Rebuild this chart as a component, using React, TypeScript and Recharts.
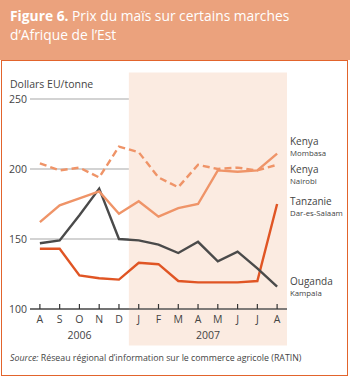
import React from "react";
import {
  CartesianGrid,
  Line,
  LineChart,
  ReferenceArea,
  XAxis,
  YAxis,
} from "recharts";

const months = ["A", "S", "O", "N", "D", "J", "F", "M", "A", "M", "J", "J", "A"];
const mombasa = [204, 199, 201, 194, 216, 212, 194, 187, 203, 200, 201, 199, 203];
const nairobi = [162, 174, 179, 184, 168, 177, 166, 172, 175, 199, 198, 199, 211];
const kampala = [147, 149, 167, 186, 150, 149, 146, 140, 148, 134, 141, 129, 116];
const darEsSalaam = [143, 143, 124, 122, 121, 133, 132, 120, 119, 119, 119, 120, 175];
const yTicks = [100, 150, 200, 250];
const yearTicks = [2, 8.5];
const yearLabels: Record<string, string> = { "2": "2006", "8.5": "2007" };

const data = months.map((m, i) => ({
  i,
  month: m,
  mombasa: mombasa[i],
  nairobi: nairobi[i],
  kampala: kampala[i],
  dar: darEsSalaam[i],
}));

const FONT = "'Open Sans', 'Noto Sans', sans-serif";
const SALMON = "#EF9468";
const RED = "#E05524";
const DARK = "#4a4a4a";

function MonthTick(props: any) {
  const { x, y, payload } = props;
  return (
    <g>
      <line x1={x} x2={x} y1={y - 5} y2={y} stroke="#333" strokeWidth={1.2} />
      <text x={x} y={y + 14} textAnchor="middle" fontSize={10.5} fill="#444" fontFamily={FONT}>
        {months[payload.value]}
      </text>
    </g>
  );
}

const seriesLabels = [
  { top: 136, a: "Kenya", b: "Mombasa" },
  { top: 164, a: "Kenya", b: "Nairobi" },
  { top: 196, a: "Tanzanie", b: "Dar-es-Salaam" },
  { top: 276, a: "Ouganda", b: "Kampala" },
];

export default function App() {
  return (
    <div
      style={{
        position: "fixed",
        top: 0,
        left: 0,
        width: 350,
        height: 377,
        background: "#fff",
        fontFamily: FONT,
        overflow: "hidden",
      }}
    >
      <div
        style={{
          position: "absolute",
          top: 0,
          left: 0,
          width: 350,
          height: 60,
          background: "#EBA27D",
        }}
      />
      <div
        style={{
          position: "absolute",
          top: 6,
          left: 10,
          width: 330,
          color: "#fff",
          fontSize: 13.8,
          lineHeight: "19px",
        }}
      >
        <div>
          <b>Figure 6.</b> Prix du maïs sur certains marches
        </div>
        <div>d’Afrique de l’Est</div>
      </div>
      <div
        style={{
          position: "absolute",
          top: 60,
          left: 1,
          width: 345,
          height: 314,
          border: "1.5px solid #E2642C",
        }}
      />
      <div
        style={{
          position: "absolute",
          top: 77,
          left: 10,
          fontSize: 10.5,
          color: "#444",
        }}
      >
        Dollars EU/tonne
      </div>
      <LineChart
        width={350}
        height={377}
        data={data}
        margin={{ top: 99, right: 63, left: 0, bottom: 30 }}
        style={{ position: "absolute", top: 0, left: 0 }}
      >
        <ReferenceArea
          x1={4.5}
          x2={12.5}
          y1={74}
          y2={269}
          fill="#FBEBE1"
          fillOpacity={1}
          stroke="none"
          ifOverflow="visible"
        />
        <CartesianGrid horizontal vertical={false} stroke="#c4c4c4" strokeWidth={1.5} />
        <XAxis
          dataKey="i"
          type="number"
          domain={[-0.5, 12.5]}
          ticks={months.map((_, i) => i)}
          interval={0}
          height={18}
          tickSize={0}
          tickMargin={0}
          tickLine={false}
          axisLine={{ stroke: "#555", strokeWidth: 1.5 }}
          tick={<MonthTick />}
        />
        <XAxis
          xAxisId="year"
          dataKey="i"
          type="number"
          domain={[-0.5, 12.5]}
          ticks={yearTicks}
          interval={0}
          height={20}
          tickSize={0}
          tickMargin={5}
          axisLine={false}
          tickLine={false}
          tick={{ fontSize: 10.5, fill: "#444", fontFamily: FONT }}
          tickFormatter={(v: number) => yearLabels[String(v)]}
        />
        <YAxis
          type="number"
          domain={[100, 250]}
          ticks={yTicks}
          width={30}
          tickSize={0}
          tickMargin={3}
          axisLine={false}
          tickLine={false}
          tick={{ fontSize: 10.5, fill: "#444", fontFamily: FONT }}
        />
        <Line
          dataKey="dar"
          stroke={RED}
          strokeWidth={2.4}
          dot={false}
          isAnimationActive={false}
        />
        <Line
          dataKey="kampala"
          stroke={DARK}
          strokeWidth={2.4}
          dot={false}
          isAnimationActive={false}
        />
        <Line
          dataKey="nairobi"
          stroke={SALMON}
          strokeWidth={2.4}
          dot={false}
          isAnimationActive={false}
        />
        <Line
          dataKey="mombasa"
          stroke={SALMON}
          strokeWidth={2.4}
          strokeDasharray="7 4"
          dot={false}
          isAnimationActive={false}
        />
      </LineChart>
      {seriesLabels.map((s) => (
        <div
          key={s.a + s.b}
          style={{
            position: "absolute",
            top: s.top,
            left: 290,
            color: "#444",
            lineHeight: "11px",
          }}
        >
          <div style={{ fontSize: 10 }}>{s.a}</div>
          <div style={{ fontSize: 7.8, marginTop: 1 }}>{s.b}</div>
        </div>
      ))}
      <div
        style={{
          position: "absolute",
          top: 352,
          left: 10,
          fontSize: 8.8,
          color: "#444",
        }}
      >
        <i>Source:</i> Réseau régional d’information sur le commerce agricole (RATIN)
      </div>
    </div>
  );
}
